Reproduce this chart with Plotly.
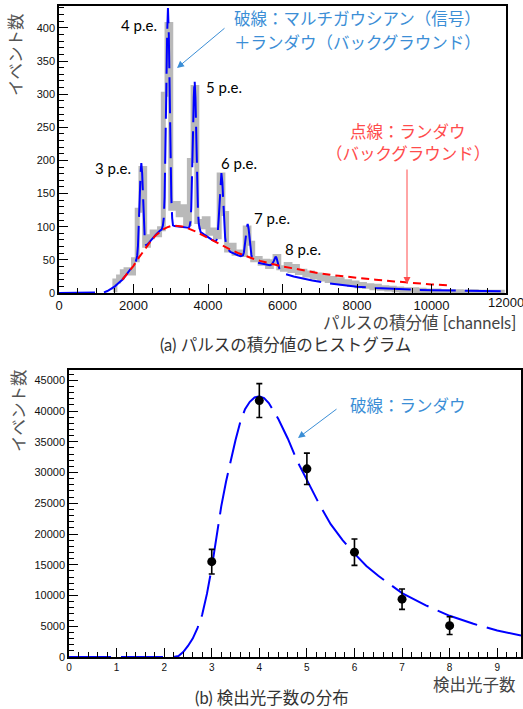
import plotly.graph_objects as go

W, H = 523, 709

# ---------------- (a) pulse-integral histogram ----------------
hist_start = 1400      # first bin low edge [channels]
hist_width = 100       # bin width [channels]
hist_counts = [5, 18, 24, 32, 35, 30, 50, 125, 188, 72,
               85, 92, 88, 97, 300, 405, 128, 135, 118, 130,
               105, 200, 310, 108, 100, 112, 90, 95, 85, 178,
               120, 65, 72, 60, 62, 58, 98, 75, 50, 52,
               45, 48, 40, 47, 55, 38, 36, 43, 34, 40,
               31, 33, 27, 30, 24, 27, 21, 24, 19, 22,
               17, 20, 15, 17, 13, 15, 11, 13, 10, 11,
               8, 10, 7, 8, 6, 7, 5, 6, 4, 5,
               4, 5, 3, 4, 3, 3, 2, 3, 2, 2,
               1, 2, 1, 2, 1, 1, 1, 2, 1, 0,
               1, 0, 1, 0, 1, 0]

# multi-gaussian + landau fit (blue)
fit_x = [0, 1100, 1200, 1300, 1400, 1500, 1600, 1700, 1800, 1900, 2000, 2050,
         2075, 2098, 2120, 2143, 2165, 2188, 2210, 2232, 2255, 2277, 2300, 2322, 2345,
         2400, 2500, 2600, 2700, 2760,
         2790, 2813, 2835, 2858, 2880, 2903, 2925, 2948, 2970, 2993, 3015, 3038, 3060,
         3100, 3200, 3300, 3400, 3480,
         3505, 3528, 3550, 3573, 3595, 3618, 3640, 3663, 3685, 3708, 3730, 3753, 3775,
         3800, 3900, 4000, 4100, 4180,
         4210, 4235, 4260, 4285, 4310, 4335, 4360, 4385, 4410, 4435, 4460, 4485, 4510,
         4600, 4700, 4800, 4880,
         4915, 4940, 4965, 4990, 5015, 5040, 5065, 5090, 5115, 5140, 5165, 5190, 5215,
         5300, 5400, 5500, 5600, 5665, 5715, 5765, 5790, 5815, 5840, 5865, 5890, 5930,
         5980, 6060, 6300, 6600, 6800, 7200, 7600, 8000, 8500, 9000, 9500, 10000, 11000, 12000]
fit_y = [0, 0, 0.8, 3, 6, 10, 15, 20, 27, 34, 41, 46,
         50, 56, 71, 98, 140, 178, 196, 181, 146, 108, 85, 74, 71.5,
         75, 82, 88, 93.5, 96,
         102, 113, 144, 205, 301, 390, 430, 390, 301, 205, 144, 113, 102,
         101, 100.5, 100, 99, 98.5,
         100.5, 107.5, 127.5, 168.5, 234, 295, 322, 294, 233, 167, 126, 104, 95.5,
         92, 88, 84, 80.5, 78.5,
         78, 81, 90, 110, 140, 168.5, 181, 167, 137, 105, 84, 73, 68,
         62, 59, 57, 55.6,
         56, 57, 61.5, 70, 84.5, 98, 104, 97, 82.5, 67, 57.5, 52, 50,
         46, 44.5, 43.5, 42.5, 42, 43, 48, 53, 55, 53, 47, 40, 34,
         31, 29, 25, 21, 19, 15, 12, 9.5, 7.5, 6, 5, 4.2, 3.2, 2.5]

# landau background (red)
bg_x = [1700, 1800, 1900, 2000, 2100, 2200, 2300, 2400, 2500, 2600, 2700, 2800, 2900,
        3000, 3100, 3200, 3300, 3400, 3500, 3600, 3700, 3800, 3900, 4000, 4200, 4400,
        4600, 4800, 5000, 5200, 5400, 5600, 5800, 6000, 6250, 6500, 6750, 7000, 7500,
        8000, 8500, 9000, 9500, 10000, 10500]
bg_y = [20, 27, 34, 41, 50, 58, 66, 74, 81, 87, 92, 96, 99,
        101, 101.5, 101.5, 100.5, 99, 97, 94.5, 92, 89, 86, 83, 77, 71,
        65.5, 60.5, 56, 52, 48.5, 45.5, 42.5, 40, 37.5, 35, 33, 29.5, 26,
        22.5, 20, 17.5, 15, 13, 11.5]

pe_labels = ["3 p.e.", "4 p.e.", "5 p.e.", "6 p.e.", "7 p.e.", "8 p.e."]

# ---------------- (b) detected photon number ----------------
npe = [3, 4, 5, 6, 7, 8]
npe_counts = [15500, 41700, 30600, 17050, 9400, 5100]
npe_errors = [2000, 2750, 2550, 2150, 1650, 1450]

landau_x = [0, 2.2, 2.3, 2.4, 2.5, 2.6, 2.7, 2.8, 2.9, 3.0, 3.1, 3.2, 3.3, 3.4, 3.5,
            3.6, 3.7, 3.8, 3.9, 4.0, 4.1, 4.2, 4.3, 4.4, 4.6, 4.8, 5.0, 5.25, 5.5,
            5.75, 6.0, 6.25, 6.5, 7.0, 7.5, 8.0, 8.5, 9.0, 9.5]
landau_y = [0, 0, 150, 800, 1800, 3000, 4700, 6900, 10300, 14500, 19500, 24500, 28500,
            32000, 35300, 38200, 40300, 41500, 42200, 42400, 42100, 41300, 40100, 38700,
            35500, 31800, 28800, 25000, 21600, 19000, 16800, 14800, 13200, 10400, 8400,
            6700, 5400, 4300, 3500]

hist_centers = [hist_start + hist_width * (i + 0.5) for i in range(len(hist_counts))]

def px(x):
    return x / W

def py(y):
    return 1 - y / H

JP = "Noto Sans CJK JP"
LAT = "Lato, Noto Sans CJK JP"
TICKF = "Liberation Sans, Arial"

fig = go.Figure()

fig.add_trace(go.Scatter(x=hist_centers, y=hist_counts, mode="lines", line_shape="hvh",
                         line=dict(color="#b9b9b9", width=5), xaxis="x", yaxis="y",
                         hoverinfo="skip"))
fig.add_trace(go.Scatter(x=fit_x, y=fit_y, mode="lines",
                         line=dict(color="#0000ff", width=2, dash="36px,9px"),
                         xaxis="x", yaxis="y"))
fig.add_trace(go.Scatter(x=bg_x, y=bg_y, mode="lines",
                         line=dict(color="#ff0000", width=2, dash="8px,5px"),
                         xaxis="x", yaxis="y"))

fig.add_trace(go.Scatter(x=landau_x, y=landau_y, mode="lines",
                         line=dict(color="#0000ff", width=2, dash="42px,10px"),
                         xaxis="x2", yaxis="y2"))
fig.add_trace(go.Scatter(x=npe, y=npe_counts, mode="markers",
                         marker=dict(color="black", size=9),
                         error_y=dict(type="data", array=npe_errors, color="black",
                                      thickness=1.6, width=3),
                         xaxis="x2", yaxis="y2"))

axis_common = dict(showline=True, mirror=True, linecolor="black", linewidth=1.5,
                   ticks="inside", tickcolor="black", showgrid=False, zeroline=False,
                   automargin=False, tickformat="d")

fig.update_layout(
    width=W, height=H, margin=dict(l=0, r=0, t=0, b=0, autoexpand=False),
    paper_bgcolor="white", plot_bgcolor="white", showlegend=False,
    xaxis=dict(domain=[px(59), px(506)], range=[0, 12000], anchor="y",
               dtick=2000, tick0=0, ticklen=9, tickwidth=1,
               minor=dict(dtick=500, ticks="inside", ticklen=5, tickcolor="black"),
               tickfont=dict(family=TICKF, size=13, color="#111"), **axis_common),
    yaxis=dict(domain=[py(293), py(6)], range=[0, 433], anchor="x",
               dtick=50, tick0=0, ticklen=9, tickwidth=1,
               minor=dict(dtick=10, ticks="inside", ticklen=5, tickcolor="black"),
               tickfont=dict(family=TICKF, size=11, color="#111"), **axis_common),
    xaxis2=dict(domain=[px(69), px(521)], range=[0, 9.5], anchor="y2",
                dtick=1, tick0=0, ticklen=9, tickwidth=1,
                minor=dict(dtick=0.2, ticks="inside", ticklen=5, tickcolor="black"),
                tickfont=dict(family=TICKF, size=10, color="#111"), **axis_common),
    yaxis2=dict(domain=[py(657), py(370)], range=[0, 46670], anchor="x2",
                dtick=5000, tick0=0, ticklen=9, tickwidth=1,
                minor=dict(dtick=1000, ticks="inside", ticklen=5, tickcolor="black"),
                tickfont=dict(family=TICKF, size=11, color="#111"), **axis_common),
)

ann = []

def text(x, y, s, size, color, family=JP, angle=0, xanchor="center"):
    ann.append(dict(x=px(x), y=py(y), xref="paper", yref="paper", text=s,
                    showarrow=False, xanchor=xanchor, yanchor="middle",
                    textangle=angle, font=dict(family=family, size=size, color=color)))

def arrow(tipx, tipy, tailx, taily, color):
    ann.append(dict(x=px(tipx), y=py(tipy), xref="paper", yref="paper", text="",
                    showarrow=True, ax=tailx - tipx, ay=taily - tipy,
                    arrowhead=2, arrowsize=1.4, arrowwidth=1, arrowcolor=color))

# p.e. labels
pe_pos = [(113, 168), (139, 25), (224, 87), (239, 163), (272, 218), (303, 249)]
for lab, (lx, ly) in zip(pe_labels, pe_pos):
    text(lx, ly, lab, 15, "black", family=LAT)

# last x tick label of (a), which runs past the right edge in the reference
text(506, 302, "12000", 13, "#111", family=TICKF)

BLUE_T = "#3b8ed6"
RED_T = "#ff4c4c"
text(357, 18, "破線：マルチガウシアン（信号）", 16.5, BLUE_T)
text(357, 42, "＋ランダウ（バックグラウンド）", 16.5, BLUE_T)
arrow(177, 68, 226, 27, BLUE_T)

text(408, 131, "点線：ランダウ", 16.5, RED_T)
text(408, 153, "（バックグラウンド）", 16.5, RED_T)
arrow(407, 284, 407, 168, RED_T)

text(15, 55, "イベント数", 16.5, "#555", angle=-90)
text(518, 323, "パルスの積分値 [channels]", 16.5, "#444", family=LAT, xanchor="right")
text(285, 345, "(a) パルスの積分値のヒストグラム", 16.5, "#333", family=LAT)

text(408, 405, "破線：ランダウ", 16.5, BLUE_T)
arrow(298, 438, 338, 408, BLUE_T)
text(18, 411, "イベント数", 16.5, "#555", angle=-90)
text(518, 684, "検出光子数", 16.5, "#444", xanchor="right")
text(272, 698, "(b) 検出光子数の分布", 16.5, "#333", family=LAT)

fig.update_layout(annotations=ann)

fig.write_html("out.html", config={"displayModeBar": False},
               post_script="document.body.style.margin='0px';"
                           "document.body.style.overflow='hidden';")
